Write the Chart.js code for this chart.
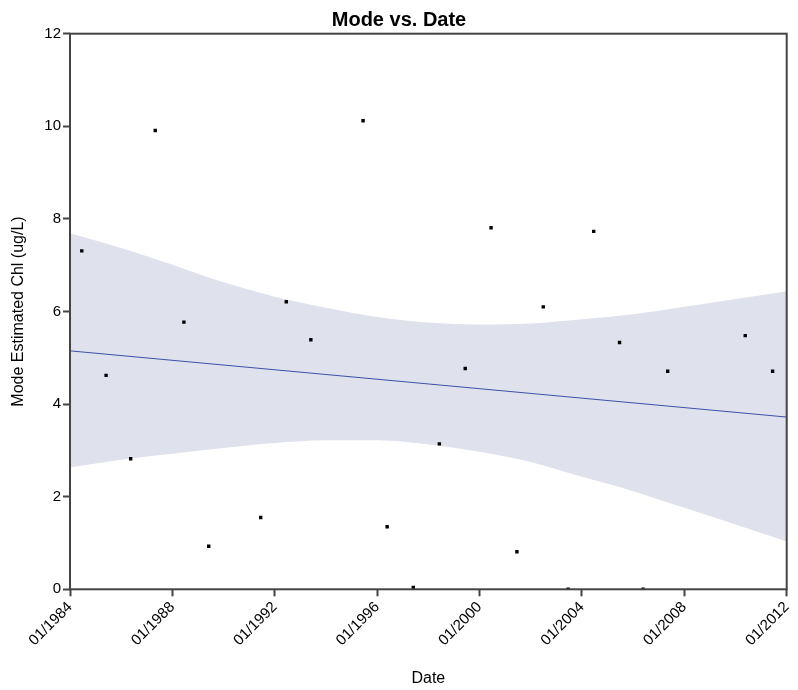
<!DOCTYPE html>
<html>
<head>
<meta charset="utf-8">
<title>Mode vs. Date</title>
<script src="https://cdn.jsdelivr.net/npm/chart.js@4.4.1/dist/chart.umd.min.js"></script>
<style>
  html, body { margin: 0; padding: 0; background: #ffffff; }
  #wrap { width: 798px; height: 690px; }
</style>
</head>
<body>
<div id="wrap"><canvas id="chart" width="798" height="690"></canvas></div>
<script>
// Sample dates (decimal years) and mode estimated chlorophyll (ug/L)
const sampleDates = [1984.46, 1985.41, 1986.37, 1987.33, 1988.45, 1989.42, 1991.45, 1992.45,
                     1993.41, 1995.45, 1996.39, 1997.41, 1998.43, 1999.44, 2000.45, 2001.46,
                     2002.49, 2003.46, 2004.46, 2005.47, 2006.39, 2007.35, 2010.38, 2011.45];
const modeChl = [7.31, 4.62, 2.82, 9.91, 5.77, 0.93, 1.55, 6.21,
                 5.39, 10.12, 1.35, 0.04, 3.14, 4.77, 7.81, 0.81,
                 6.10, 0.00, 7.73, 5.33, 0.00, 4.71, 5.48, 4.71];

// Fitted regression line end points
const fitDates = [1984, 2012];
const fitValues = [5.15, 3.72];

// Confidence band limits
const bandDates = [1984, 1986, 1988, 1990, 1992, 1994, 1996, 1998, 2000, 2002, 2004, 2006, 2008, 2010, 2012];
const bandUpper = [7.69, 7.37, 7.01, 6.63, 6.32, 6.08, 5.88, 5.76, 5.72, 5.74, 5.83, 5.94, 6.10, 6.27, 6.44];
const bandLower = [2.63, 2.80, 2.93, 3.05, 3.16, 3.22, 3.22, 3.13, 2.97, 2.75, 2.43, 2.12, 1.76, 1.40, 1.03];

// Axis ticks
const xTicks = [1984, 1988, 1992, 1996, 2000, 2004, 2008, 2012];
const yTicks = [0, 2, 4, 6, 8, 10, 12];

const toXY = (xs, ys) => xs.map((x, i) => ({ x: x, y: ys[i] }));

const FONT = "'Liberation Sans', Arial, sans-serif";
const AXIS_COLOR = '#444444';

// Frame around the plot area, drawn over the marks
const framePlugin = {
  id: 'frame',
  afterDatasetsDraw(chart) {
    const { ctx, chartArea: a } = chart;
    ctx.save();
    ctx.strokeStyle = AXIS_COLOR;
    ctx.lineWidth = 2;
    ctx.strokeRect(a.left, a.top, a.right - a.left, a.bottom - a.top);
    ctx.restore();
  }
};

new Chart(document.getElementById('chart'), {
  type: 'scatter',
  data: {
    datasets: [
      {
        label: 'Mode Estimated Chl',
        data: toXY(sampleDates, modeChl),
        pointStyle: 'rect',
        pointRadius: 2.4,
        pointBorderWidth: 0,
        backgroundColor: '#000000',
        borderColor: '#000000',
        clip: 0
      },
      {
        label: 'Fit',
        type: 'line',
        data: toXY(fitDates, fitValues),
        borderColor: '#3c50a8',
        borderWidth: 1,
        pointRadius: 0,
        fill: false
      },
      {
        label: 'Upper limit',
        type: 'line',
        data: toXY(bandDates, bandUpper),
        borderWidth: 0,
        borderColor: 'rgba(0,0,0,0)',
        pointRadius: 0,
        cubicInterpolationMode: 'monotone',
        backgroundColor: '#dfe2ed',
        fill: '+1'
      },
      {
        label: 'Lower limit',
        type: 'line',
        data: toXY(bandDates, bandLower),
        borderWidth: 0,
        borderColor: 'rgba(0,0,0,0)',
        pointRadius: 0,
        cubicInterpolationMode: 'monotone',
        fill: false
      }
    ]
  },
  options: {
    responsive: false,
    animation: false,
    layout: { padding: { left: 11.3, right: 11.3, top: 0, bottom: 0 } },
    plugins: {
      legend: { display: false },
      tooltip: { enabled: false },
      title: {
        display: true,
        text: 'Mode vs. Date',
        color: '#000000',
        font: { family: FONT, size: 20, weight: 'bold', lineHeight: 1.2 },
        padding: { top: 8, bottom: 1.7 }
      }
    },
    scales: {
      x: {
        type: 'linear',
        min: 1984,
        max: 2012,
        afterBuildTicks(scale) { scale.ticks = xTicks.map(v => ({ value: v })); },
        afterFit(scale) {
          scale.height = 100.7;
          scale.paddingLeft = 0;
          scale.paddingRight = 0;
        },
        grid: { display: true, drawOnChartArea: false, drawTicks: true, tickLength: 7, tickColor: AXIS_COLOR, tickWidth: 2 },
        border: { display: false },
        ticks: {
          autoSkip: false,
          minRotation: 45,
          maxRotation: 45,
          padding: 2,
          color: '#000000',
          font: { family: FONT, size: 15 },
          callback: v => '01/' + v
        },
        title: {
          display: true,
          text: 'Date',
          color: '#000000',
          font: { family: FONT, size: 16 },
          padding: { top: 0, bottom: 2 }
        }
      },
      y: {
        min: 0,
        max: 12,
        afterBuildTicks(scale) { scale.ticks = yTicks.map(v => ({ value: v })); },
        afterFit(scale) { scale.width = 58.7; },
        grid: { display: true, drawOnChartArea: false, drawTicks: true, tickLength: 7, tickColor: AXIS_COLOR, tickWidth: 2 },
        border: { display: false },
        ticks: {
          padding: 2,
          color: '#000000',
          font: { family: FONT, size: 15 }
        },
        title: {
          display: true,
          text: 'Mode Estimated Chl (ug/L)',
          color: '#000000',
          font: { family: FONT, size: 16 },
          padding: { top: -2.4, bottom: 0 }
        }
      }
    }
  },
  plugins: [framePlugin]
});
</script>
</body>
</html>
